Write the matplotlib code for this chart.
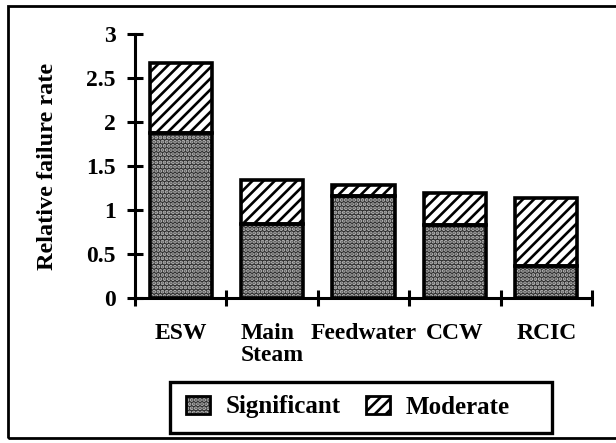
import matplotlib
matplotlib.use("Agg")
import matplotlib.pyplot as plt
from matplotlib.patches import Patch, Rectangle
from matplotlib.legend_handler import HandlerTuple
import numpy as np

categories = ["ESW", "Main\nSteam", "Feedwater", "CCW", "RCIC"]
significant = [1.87, 0.84, 1.16, 0.83, 0.36]
moderate = [0.80, 0.50, 0.12, 0.36, 0.78]
yticks = [0, 0.5, 1, 1.5, 2, 2.5, 3]
ytick_labels = ["0", "0.5", "1", "1.5", "2", "2.5", "3"]
series_labels = ["Significant", "Moderate"]

plt.rcParams['font.family'] = ['Liberation Serif', 'DejaVu Serif']
plt.rcParams['font.weight'] = 'bold'
plt.rcParams['hatch.linewidth'] = 1.9

W, H = 616, 443
FS = 17
fig = plt.figure(figsize=(W / 100, H / 100), dpi=100)

AX_L, AX_T, AX_R, AX_B = 135, 34, 592, 298
ax = fig.add_axes([AX_L / W, 1 - AX_B / H, (AX_R - AX_L) / W, (AX_B - AX_T) / H])

x = np.arange(len(categories))
bw = 0.68
sig_fill = '#2e2e2e'
dot_col = '#bdbdbd'

# significant fill (stipple)
ax.bar(x, significant, bw, color=sig_fill, edgecolor=dot_col, hatch='....', linewidth=0, zorder=2)
# moderate fill (diagonal)
ax.bar(x, moderate, bw, bottom=significant, color='white', edgecolor='black', hatch='///', linewidth=0, zorder=2)
# outlines
ax.bar(x, significant, bw, fill=False, edgecolor='black', linewidth=2.6, zorder=3)
ax.bar(x, moderate, bw, bottom=significant, fill=False, edgecolor='black', linewidth=2.6, zorder=3)

ax.set_xlim(-0.5, len(categories) - 0.5)
ax.set_ylim(0, 3)
ax.spines['top'].set_visible(False)
ax.spines['right'].set_visible(False)
ax.spines['left'].set_linewidth(2.2)
ax.spines['bottom'].set_linewidth(2.2)

ax.set_yticks(yticks)
ax.set_yticklabels(ytick_labels, fontsize=FS, fontweight='bold')
ax.set_xticks(np.arange(len(categories) + 1) - 0.5)
ax.set_xticklabels([])
ax.tick_params(axis='both', direction='inout', length=12, width=2.2)
ax.tick_params(axis='y', pad=8)

for i, c in enumerate(categories):
    ax.text(i, -0.28, c, ha='center', va='top', fontsize=FS, fontweight='bold',
            multialignment='left', linespacing=1.1)

ax.set_ylabel("Relative failure rate", fontsize=17.5, fontweight='bold')
ax.yaxis.set_label_coords((58 - AX_L) / (AX_R - AX_L), 0.5)

sig_handle = (Patch(facecolor=sig_fill, edgecolor=dot_col, hatch='....', linewidth=0),
              Patch(fill=False, edgecolor='black', linewidth=2))
mod_handle = (Patch(facecolor='white', edgecolor='black', hatch='///', linewidth=0),
              Patch(fill=False, edgecolor='black', linewidth=2))
leg = fig.legend([sig_handle, mod_handle], series_labels,
                 handler_map={tuple: HandlerTuple(ndivide=1)},
                 loc='center', bbox_to_anchor=(348 / W, 1 - 407 / H), ncol=2,
                 prop={'size': 18, 'weight': 'bold'}, frameon=False,
                 handlelength=0.95, handleheight=0.75,
                 handletextpad=0.65, columnspacing=1.0, borderpad=0.0, borderaxespad=0)

# legend box
fig.patches.append(Rectangle((170 / W, 1 - 433 / H), (552 - 170) / W, (433 - 382) / H,
                             transform=fig.transFigure, fill=False, edgecolor='black',
                             linewidth=2.4, figure=fig))

# outer frame
fig.patches.append(Rectangle((8 / W, 1 - 438 / H), 630 / W, 432 / H, transform=fig.transFigure,
                             fill=False, edgecolor='black', linewidth=2.0, figure=fig))

fig.savefig("out.png", dpi=100)
